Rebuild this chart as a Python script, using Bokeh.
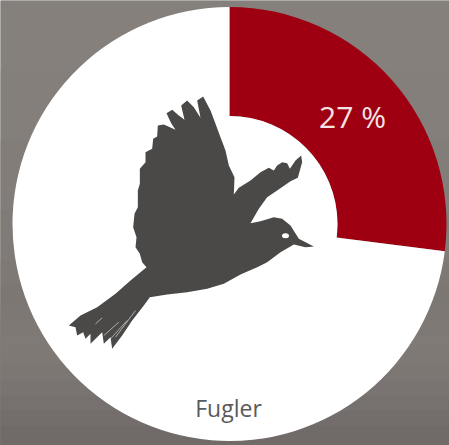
import math
from bokeh.embed import file_html
from bokeh.resources import INLINE
from bokeh.plotting import figure
from bokeh.core.properties import value
from bokeh.models import Range1d

categories = ["Fugler", "Rest"]
shares = [27, 73]
share_label = "27 %"
category_label = "Fugler"
slice_colors = ["#9e0012", "#ffffff"]

# backdrop bands: top edge of each band (reference pixels) and its colour
band_top = [0, 70, 140, 210, 260, 285, 305, 320, 335, 350, 365, 380, 395, 410, 425]
band_color = ["#85807c", "#847f7b", "#827d79", "#807b77", "#7e7975", "#7c7773", "#7d7874", "#7e7975", "#7f7a76",
              "#7e7975", "#7c7773", "#797471", "#76716e", "#736e6b", "#706b68"]

# silhouette outline (3x crop coordinates, origin 60,90)
bird_zoom = [(760,468),(735,470),(700,462),(660,485),(620,515),(590,530),(540,552),(490,580),(440,595),(380,605),(320,612),(268,620),
             (250,645),(215,690),(185,735),(155,775),(150,740),(130,760),(125,725),(90,760),(90,730),(75,745),(68,725),(50,735),(45,710),(25,705),
             (60,675),(110,650),(165,610),(210,570),(258,530),(245,515),(238,490),(225,470),(228,440),(218,410),(222,370),(232,350),(232,300),
             (238,280),(238,235),(255,215),(255,185),(275,175),(278,145),(290,138),(292,105),(310,102),(345,118),(332,98),(318,68),(335,58),
             (355,75),(372,88),(362,45),(380,30),(400,50),(420,82),(410,30),(428,18),(450,60),(465,100),(478,135),(495,180),(505,225),(522,260),(520,312),
             (535,292),(570,270),(600,245),(625,232),(640,240),(650,225),(665,215),(680,218),(688,235),(705,210),(722,195),(725,215),(712,262),
             (690,272),(650,300),(620,320),(595,355),(570,398),(600,392),(640,380),(665,385),(690,405),(715,445)]
tail_slits = [[(105,700),(125,682)], [(130,735),(175,695)], [(150,745),(200,690)], [(165,740),(225,660)]]
eye_zoom = (675, 436)

bird_x = [60 + a / 3 for a, b in bird_zoom]
bird_y = [-(90 + b / 3) for a, b in bird_zoom]
slit_x = [[60 + a / 3 for a, b in s] for s in tail_slits]
slit_y = [[-(90 + b / 3) for a, b in s] for s in tail_slits]

cx, cy, outer, inner = 229, -223.5, 217, 108

p = figure(width=449, height=445, output_backend="svg", toolbar_location=None,
           x_range=Range1d(0, 449), y_range=Range1d(-445, 0), min_border=0,
           outline_line_color=None, background_fill_color="#7d7874")
p.axis.visible = False
p.grid.visible = False

p.quad(left=0, right=449, top=[-t for t in band_top], bottom=-445, fill_color=band_color, line_color=None)

start = math.pi / 2
for share, col in zip(shares, slice_colors):
    end = start - share / sum(shares) * 2 * math.pi
    r0 = inner if col != "#ffffff" else 0
    p.annular_wedge(cx, cy, inner_radius=r0, outer_radius=outer, start_angle=end, end_angle=start,
                    fill_color=col, line_color=None)
    start = end
p.circle(cx, cy, radius=inner, fill_color="#ffffff", line_color=None)

p.patch(bird_x, bird_y, fill_color="#4a4948", line_color=None)
p.multi_line(slit_x, slit_y, line_color="#ffffff", line_alpha=0.55, line_width=1)
p.ellipse(60 + eye_zoom[0] / 3, -(90 + eye_zoom[1] / 3), width=7, height=5, fill_color="#ffffff", line_color=None)

p.text([352], [-116], text=[share_label], text_font=value("Open Sans"), text_font_size="30px",
       text_color="#f4e4e4", text_align="center", text_baseline="middle")
p.text([228], [-407], text=[category_label], text_font=value("Open Sans"), text_font_size="23px",
       text_color="#5a5a5a", text_align="center", text_baseline="middle")

open("out.html", "w").write(file_html(p, INLINE))
